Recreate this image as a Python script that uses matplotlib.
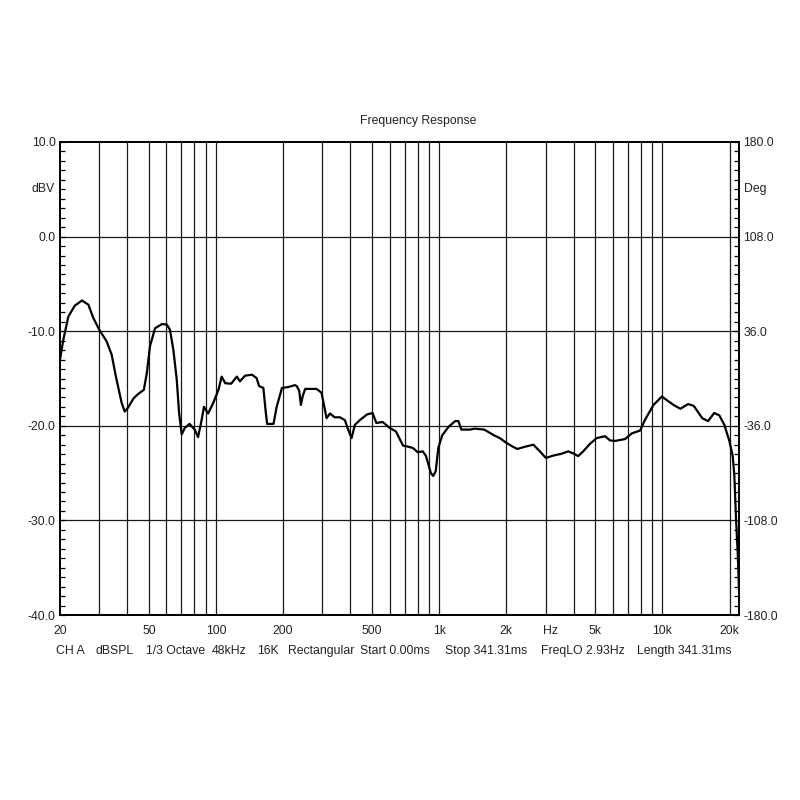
import matplotlib
matplotlib.use("Agg")
import matplotlib.pyplot as plt
from matplotlib.ticker import FixedLocator, NullFormatter, NullLocator

# values
freq_hz = [20, 20.7, 21.8, 23.3, 25.1, 26.8, 28.2, 30, 32.4, 34.1, 35.6, 37.8,
           39.0, 40.3, 42.7, 45, 47.5, 49.0, 50.6, 53.3, 57.2, 60.2, 62.2, 64.4,
           66.7, 68.3, 70.2, 72.6, 76.1, 80.3, 83.1, 86.2, 88.3, 92.2, 97.1,
           102.6, 106, 110, 117, 124, 128, 135, 145, 152, 156, 163, 167, 169.5,
           181, 187, 197.5, 211, 226, 230, 236, 240, 245, 251, 265, 282, 297,
           313, 324, 340, 359, 378, 391, 405, 419, 441, 475, 503, 523, 559, 598,
           640, 689, 725, 763, 802, 844, 873, 918, 940, 965, 991, 1032, 1102,
           1180, 1220, 1257, 1375, 1443, 1593, 1758, 1870, 2000, 2134, 2240,
           2434, 2645, 2825, 3007, 3245, 3536, 3785, 4015, 4197, 4420, 4740,
           5079, 5535, 5830, 6140, 6810, 7300, 7950, 8370, 9120, 9950, 10480,
           11230, 12040, 13040, 13830, 15100, 16020, 17070, 18000, 18960, 19960,
           20670, 21020, 21390, 21760, 22050]
level_db = [-13.0, -10.9, -8.45, -7.3, -6.75, -7.2, -8.6, -9.85, -11.1, -12.5,
            -14.8, -17.6, -18.5, -18.1, -17.1, -16.6, -16.2, -14.4, -11.6, -9.7,
            -9.25, -9.3, -9.85, -11.96, -15.1, -18.6, -20.9, -20.2, -19.8, -20.4,
            -21.2, -19.4, -18.0, -18.7, -17.6, -16.2, -14.8, -15.5, -15.55,
            -14.8, -15.3, -14.7, -14.6, -14.95, -15.8, -16.0, -18.5, -19.8,
            -19.8, -18.0, -16.0, -15.9, -15.7, -15.8, -16.3, -17.8, -16.8,
            -16.1, -16.1, -16.1, -16.5, -19.2, -18.7, -19.1, -19.1, -19.4,
            -20.4, -21.3, -19.9, -19.4, -18.8, -18.65, -19.7, -19.6, -20.2,
            -20.6, -22.1, -22.2, -22.35, -22.8, -22.7, -23.2, -25.0, -25.3,
            -24.8, -22.35, -21.0, -20.1, -19.5, -19.5, -20.4, -20.4, -20.3,
            -20.4, -21.0, -21.3, -21.8, -22.2, -22.45, -22.2, -22.0, -22.7,
            -23.4, -23.15, -22.95, -22.7, -22.95, -23.2, -22.7, -21.9, -21.3,
            -21.1, -21.55, -21.6, -21.4, -20.8, -20.5, -19.35, -17.8, -16.9,
            -17.3, -17.8, -18.2, -17.7, -17.9, -19.2, -19.5, -18.65, -18.9,
            -19.9, -21.6, -23.2, -25.3, -29.9, -33.4, -37.3]

x_tick_vals = [20, 50, 100, 200, 500, 1000, 2000, 5000, 10000, 20000]
x_tick_labels = ["20", "50", "100", "200", "500", "1k", "2k", "5k", "10k", "20k"]
left_vals = [10, 0, -10, -20, -30, -40]
left_labels = ["10.0", "0.0", "-10.0", "-20.0", "-30.0", "-40.0"]
right_vals = [180, 108, 36, -36, -108, -180]
right_labels = ["180.0", "108.0", "36.0", "-36.0", "-108.0", "-180.0"]
info_parts = ["CH A", "dBSPL", "1/3 Octave", "48kHz", "16K", "Rectangular",
              "Start 0.00ms", "Stop 341.31ms", "FreqLO 2.93Hz", "Length 341.31ms"]
info_x_px = [56, 96, 146, 212, 257, 288, 360, 445, 541, 637]


def main() -> None:
    plt.rcParams["font.family"] = ["Liberation Sans", "DejaVu Sans"]
    fs = 8.8
    txt = "#222222"

    fig = plt.figure(figsize=(8, 8), dpi=100)
    ax = fig.add_axes([60 / 800, 1 - 615 / 800, 679 / 800, 473 / 800])

    ax.set_xscale("log")
    ax.set_xlim(20, 22050)
    ax.set_ylim(-40, 10)

    #grid lines at every 1..9 x decade
    grid_f = []
    for dec in [10, 100, 1000, 10000]:
        for k in range(1, 10):
            f = k * dec
            if 20 < f < 22050:
                grid_f.append(f)
    for f in grid_f:
        ax.axvline(f, color="#1a1a1a", lw=0.9, zorder=1)
    for v in left_vals[1:-1]:
        ax.axhline(v, color="#1a1a1a", lw=0.9, zorder=1)

    ax.plot(freq_hz, level_db, color="black", lw=1.6, zorder=3)

    #x axis labels
    ax.xaxis.set_major_locator(FixedLocator(x_tick_vals))
    ax.set_xticklabels(x_tick_labels)
    ax.xaxis.set_minor_locator(NullLocator())
    ax.xaxis.set_minor_formatter(NullFormatter())
    ax.tick_params(axis="x", length=0, pad=7, labelsize=fs, labelcolor=txt)
    ax.text(3150, -41.7, "Hz", ha="center", va="center",
            fontsize=fs, color=txt)

    #left axis
    ax.set_yticks(left_vals)
    ax.set_yticklabels(left_labels)
    ax.set_yticks(range(-40, 11), minor=True)
    ax.tick_params(axis="y", which="both", direction="in", length=3.5,
                   width=0.9, labelsize=fs, labelcolor=txt, pad=3)
    ax.text(-0.008, 0.9, "dBV", transform=ax.transAxes, ha="right",
            va="center", fontsize=fs, color=txt)

    #right axis in degrees
    ax2 = ax.twinx()
    ax2.set_ylim(-180, 180)
    ax2.set_yticks(right_vals)
    ax2.set_yticklabels(right_labels)
    ax2.set_yticks([v * 7.2 for v in range(-25, 26)], minor=True)
    ax2.tick_params(axis="y", which="both", direction="in", length=3.5,
                    width=0.9, labelsize=fs, labelcolor=txt, pad=3)
    ax2.text(1.008, 0.9, "Deg", transform=ax.transAxes, ha="left",
             va="center", fontsize=fs, color=txt)

    for a in [ax, ax2]:
        for s in a.spines.values():
            s.set_linewidth(1.4)
            s.set_color("black")

    fig.text(418 / 800, 1 - 121 / 800, "Frequency Response", ha="center",
             va="center", fontsize=fs, color=txt)

    for i in range(len(info_parts)):
        fig.text(info_x_px[i] / 800, 1 - 651 / 800, info_parts[i],
                 ha="left", va="center", fontsize=fs, color=txt)

    fig.savefig("out.png", dpi=100, facecolor="white")


if __name__ == "__main__":
    main()
